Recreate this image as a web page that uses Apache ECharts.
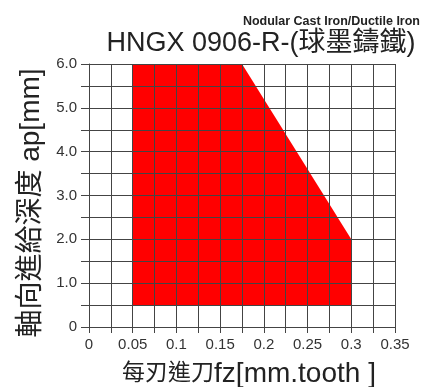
<!DOCTYPE html>
<html>
<head>
<meta charset="utf-8">
<script src="https://cdn.jsdelivr.net/npm/echarts@6/dist/echarts.min.js"></script>
<style>
  html, body { margin: 0; padding: 0; background: #fff; }
  #chart { width: 438px; height: 387px; }
</style>
</head>
<body>
<div id="chart"></div>
<script>
// 加工範圍 (多邊形頂點)
var polyX = [0.05, 0.05, 0.175, 0.3, 0.3]
var polyY = [0.5, 6.0, 6.0, 2.0, 0.5]
var xMax = 0.35
var yMax = 6

;(function () {
  var myChart = echarts.init(document.getElementById('chart'))
  var font = "'Liberation Sans', Arial, 'Noto Sans CJK TC', sans-serif"
  var gridColor = '#444'
  var option = {
    animation: false,
    textStyle: { fontFamily: font },
    title: [
      {
        text: 'Nodular Cast Iron/Ductile Iron',
        right: 13,
        top: 10,
        textStyle: { fontSize: 12.5, fontWeight: 'bold', color: '#222', fontFamily: font }
      },
      {
        text: 'HNGX 0906-R-(球墨鑄鐵)',
        left: 256,
        textAlign: 'center',
        top: 25,
        textStyle: { fontSize: 27, fontWeight: 'normal', color: '#222', fontFamily: font }
      }
    ],
    grid: {
      left: 89,
      right: 43,
      top: 64,
      bottom: 60,
      containLabel: false,
      outerBoundsMode: 'none'
    },
    xAxis: {
      type: 'value',
      min: 0,
      max: xMax,
      interval: 0.025,
      z: 5,
      name: '{a|每刃進刀}{b|fz[mm.tooth ]}',
      nameLocation: 'middle',
      nameGap: 33,
      nameTextStyle: {
        color: '#222',
        padding: [0, 0, 0, 14],
        rich: {
          a: { fontSize: 23, color: '#222', fontFamily: font },
          b: { fontSize: 28, color: '#222', fontFamily: font }
        }
      },
      axisLine: { show: true, lineStyle: { color: gridColor } },
      axisTick: { show: true, length: 6, lineStyle: { color: gridColor } },
      splitLine: { show: true, lineStyle: { color: gridColor, width: 1 } },
      axisLabel: {
        fontSize: 15,
        color: '#333',
        margin: 10,
        formatter: function (v) {
          var k = Math.round(v / 0.025)
          return k % 2 ? '' : String(+(k * 0.025).toFixed(3))
        }
      }
    },
    yAxis: {
      type: 'value',
      min: 0,
      max: yMax,
      interval: 0.5,
      z: 5,
      name: '軸向進給深度 ap[mm]',
      nameLocation: 'middle',
      nameGap: 44,
      nameTextStyle: { fontSize: 28, color: '#222', padding: [0, 15, 0, 0] },
      axisLine: { show: true, lineStyle: { color: gridColor } },
      axisTick: { show: true, length: 8, lineStyle: { color: gridColor } },
      splitLine: { show: true, lineStyle: { color: gridColor, width: 1 } },
      axisLabel: {
        fontSize: 15,
        color: '#333',
        margin: 12,
        formatter: function (v) {
          var k = Math.round(v * 2)
          if (k % 2) return ''
          return k === 0 ? '0' : (k / 2).toFixed(1)
        }
      }
    },
    series: [
      {
        type: 'custom',
        z: 2,
        data: polyX.map(function (x, i) {
          return [x, polyY[i]]
        }),
        renderItem: function (params, api) {
          if (params.dataIndex !== 0) return
          var pts = polyX.map(function (x, i) {
            return api.coord([x, polyY[i]])
          })
          return {
            type: 'polygon',
            shape: { points: pts },
            style: { fill: '#ff0000' }
          }
        }
      }
    ]
  }
  myChart.setOption(option)
})()
</script>
</body>
</html>
